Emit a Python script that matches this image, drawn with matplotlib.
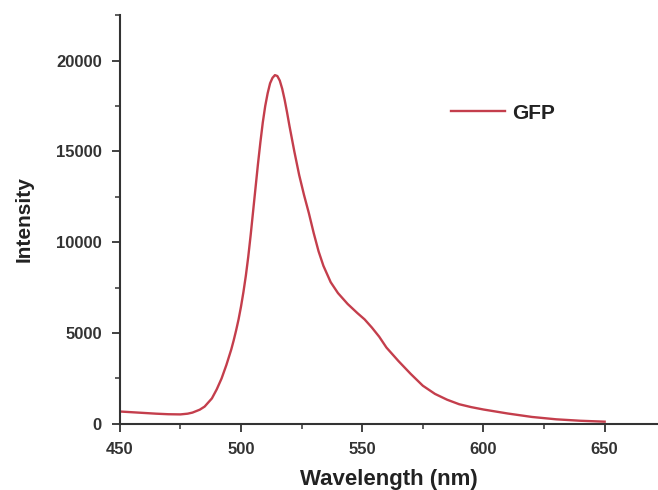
import matplotlib
matplotlib.use("Agg")
import matplotlib.pyplot as plt
from matplotlib.ticker import MultipleLocator

plt.rcParams['font.family'] = ['Liberation Sans', 'DejaVu Sans']

wavelength = [450, 455, 460, 465, 470, 475, 478, 480, 483, 485, 488, 490, 492, 494, 496, 497, 498, 499,
              500, 501, 502, 503, 504, 505, 506, 507, 508, 509, 510, 511, 512, 513, 514, 515,
              516, 517, 518, 519, 520, 521, 522, 524, 526, 528, 530, 532, 534, 537, 540, 544,
              548, 551, 554, 557, 560, 565, 570, 575, 580, 585, 590, 595, 600, 610, 620, 630,
              640, 650]
intensity = [680, 640, 600, 560, 530, 520, 560, 620, 780, 950, 1400, 1900, 2500, 3250, 4100, 4600, 5150, 5750,
             6450, 7250, 8150, 9200, 10400, 11700, 13000, 14300, 15500, 16600, 17500, 18200, 18750, 19050, 19200, 19150,
             18900, 18450, 17850, 17150, 16400, 15700, 15000, 13700, 12600, 11600, 10500, 9500, 8700, 7800, 7200, 6600,
             6100, 5750, 5300, 4800, 4200, 3450, 2750, 2100, 1650, 1330, 1080, 920, 790, 570, 380, 250,
             170, 120]
series_label = "GFP"
x_ticks = [450, 500, 550, 600, 650]
y_ticks = [0, 5000, 10000, 15000, 20000]

fig = plt.figure(figsize=(6.58, 4.9), dpi=100)
ax = fig.add_axes([0.182, 0.135, 0.818, 0.834])

ax.plot(wavelength, intensity, color='#c43e4c', lw=1.7, label=series_label,
        solid_joinstyle='round')

ax.set_xlim(450, 672)
ax.set_ylim(0, 22500)
ax.set_xticks(x_ticks)
ax.set_yticks(y_ticks)
ax.xaxis.set_minor_locator(MultipleLocator(25))
ax.yaxis.set_minor_locator(MultipleLocator(2500))

for s in ['top', 'right']:
    ax.spines[s].set_visible(False)
for s in ['left', 'bottom']:
    ax.spines[s].set_color('#333333')
    ax.spines[s].set_linewidth(1.5)

ax.tick_params(which='major', direction='out', length=6, width=1.3, color='#333333',
               labelsize=12, labelcolor='#333333')
ax.tick_params(axis='x', which='major', pad=7)
ax.tick_params(axis='y', which='major', pad=7)
ax.tick_params(which='minor', direction='out', length=3.5, width=1.1, color='#333333')
for lab in ax.get_xticklabels() + ax.get_yticklabels():
    lab.set_fontweight('bold')

ax.set_xlabel('Wavelength (nm)', fontsize=16, fontweight='bold', color='#222222', labelpad=9)
ax.set_ylabel('Intensity', fontsize=15, fontweight='bold', color='#222222', labelpad=16)

leg = ax.legend(loc='center left', bbox_to_anchor=(0.58, 0.76), frameon=False,
                handlelength=2.6, handletextpad=0.35,
                prop={'weight': 'bold', 'size': 15})
for t in leg.get_texts():
    t.set_color('#222222')

fig.savefig('out.png', dpi=100)
